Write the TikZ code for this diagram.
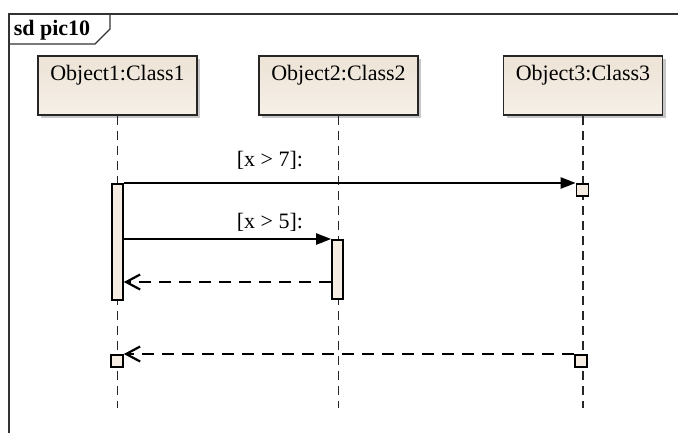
\documentclass[tikz,border=0pt]{standalone}
\usepackage{fontspec}
\setmainfont{Liberation Serif}
\usetikzlibrary{shadows,arrows.meta}
\definecolor{boxtop}{HTML}{EDE3D6}
\definecolor{boxbot}{HTML}{F6F0E8}
\definecolor{barfill}{HTML}{F5EDE1}
\definecolor{framecol}{HTML}{333333}
\begin{document}
\begin{tikzpicture}[x=1pt,y=-1pt,
  txt/.style={font=\fontsize{22}{24}\selectfont},
  objbox/.style={txt, draw=black!85, line width=1.8pt, top color=boxtop, bottom color=boxbot,
    minimum width=159pt, inner sep=0pt, text height=25pt, text depth=34pt, anchor=north,
    drop shadow={shadow xshift=3pt, shadow yshift=-3pt, fill=black, opacity=0.22}},
  lifeline/.style={line width=1.3pt, dash pattern=on 9pt off 6pt, black!85},
  actbar/.style={draw=black, line width=1.6pt, fill=barfill, minimum width=11pt, inner sep=0pt, anchor=north},
  endsq/.style={draw=black, line width=1.6pt, fill=barfill, minimum width=12pt, minimum height=12pt, inner sep=0pt, anchor=north},
  msg/.style={line width=2.3pt, -{Triangle[length=15pt,width=11pt]}},
  ret/.style={line width=2.3pt, dash pattern=on 12pt off 8pt, -{Straight Barb[length=14pt,width=15pt,line width=2.2pt]}},
  guard/.style={txt, inner sep=0pt},
  title/.style={font=\fontsize{22}{24}\selectfont\bfseries, inner sep=0pt}
]
\useasboundingbox (0,0) rectangle (678,432);
\clip (0,0) rectangle (678,432);
\fill[white] (0,0) rectangle (678,432);

% diagram frame and its name tab
\draw[framecol, line width=1.5pt] (9,445) -- (9,14) -- (690,14);
\draw[framecol, line width=1.3pt] (9,44) -- (95,44) -- (110,29) -- (110,14);
\node[title] (sd) at (52,30) {sd pic10};

% bottom end of the lifelines
\coordinate (bottom) at (0,408);

% participants
\node[objbox] (o1) at (117.5,55) {Object1:Class1};
\node[objbox] (o2) at (338.5,55) {Object2:Class2};
\node[objbox] (o3) at (583,55) {Object3:Class3};

% lifelines
\draw[lifeline] (o1.south) -- (o1.south |- bottom);
\draw[lifeline] (o2.south) -- (o2.south |- bottom);
\draw[lifeline] (o3.south) -- (o3.south |- bottom);

% activations and message end points
\node[actbar, minimum height=116pt] (a1) at (117.5,183) {};
\node[actbar, minimum height=59pt] (a2) at (337.5,239) {};
\node[endsq] (s3) at (582.5,183) {};
\node[endsq] (s3b) at (581,354) {};
\node[endsq] (s1b) at (117,354) {};
\coordinate (r) at (0,282);

% messages
\node[guard] (g1) at (270,160) {[x > 7]:};
\draw[msg] (a1.north east) -- (s3.north west);
\node[guard] (g2) at (270,222) {[x > 5]:};
\draw[msg] (a1.east |- a2.north) -- (a2.north west);
\draw[ret] (a2.west |- r) -- (a1.east |- r);
\draw[ret] (s3b.north west) -- (s1b.north east);
\end{tikzpicture}
\end{document}
